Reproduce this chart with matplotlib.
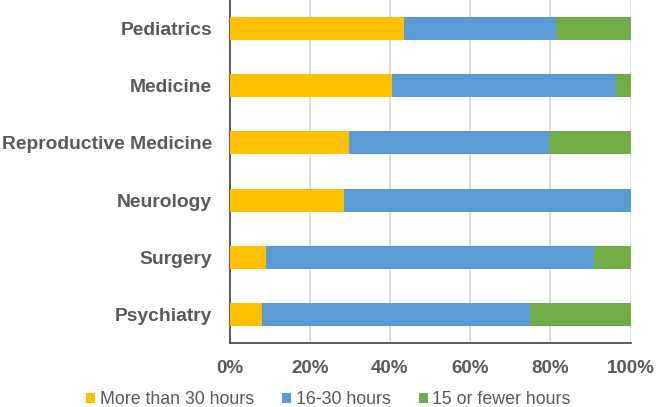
import matplotlib
matplotlib.use("Agg")
import matplotlib.pyplot as plt
import numpy as np

categories = ["Pediatrics", "Medicine", "Reproductive Medicine", "Neurology", "Surgery", "Psychiatry"]
more_than_30 = [43.6, 40.6, 29.8, 28.6, 9.0, 8.0]
h16_30 = [37.7, 55.8, 50.0, 71.4, 82.0, 67.0]
fewer_15 = [18.7, 3.6, 20.2, 0.0, 9.0, 25.0]
series_names = ["More than 30 hours", "16-30 hours", "15 or fewer hours"]
colors = ["#FFC000", "#5B9BD5", "#70AD47"]
xticks = [0, 20, 40, 60, 80, 100]
xtick_labels = ["0%", "20%", "40%", "60%", "80%", "100%"]

fig = plt.figure(figsize=(6.57, 4.07), dpi=100)
ax = fig.add_axes([229.5/657, 1 - 343/407, 401/657, 343/407])

y = np.arange(len(categories))
left = np.zeros(len(categories))
for vals, name, c in zip([more_than_30, h16_30, fewer_15], series_names, colors):
    ax.barh(y, vals, left=left, height=0.4, color=c, label=name, zorder=3)
    left = left + np.array(vals)

ax.set_xlim(0, 100)
ax.set_ylim(len(categories) - 0.5, -0.5)
ax.set_yticks(y)
ax.set_yticklabels(categories, fontfamily="Liberation Sans", fontweight="bold", fontsize=13.9, color="#595959")
ax.set_xticks(xticks)
ax.set_xticklabels(xtick_labels, fontfamily="Liberation Sans", fontweight="bold", fontsize=13.5, color="#595959")
ax.tick_params(axis="y", length=0, pad=12.6)
ax.tick_params(axis="x", length=0, pad=12.5)
ax.grid(axis="x", color="#D9D9D9", linewidth=1.2, zorder=0)
for s in ["top", "right"]:
    ax.spines[s].set_visible(False)
ax.spines["left"].set_color("#404040")
ax.spines["bottom"].set_color("#404040")
ax.spines["left"].set_linewidth(1.2)
ax.spines["bottom"].set_linewidth(1.2)

leg = fig.legend(loc="center", bbox_to_anchor=(0.5, 1 - 400/407), ncol=3, frameon=False,
                 prop={"family": "Liberation Sans", "size": 12.8}, handlelength=0.5, handleheight=0.5,
                 handletextpad=0.25, columnspacing=1.6, labelcolor="#595959")

fig.savefig("out.png", dpi=100)
